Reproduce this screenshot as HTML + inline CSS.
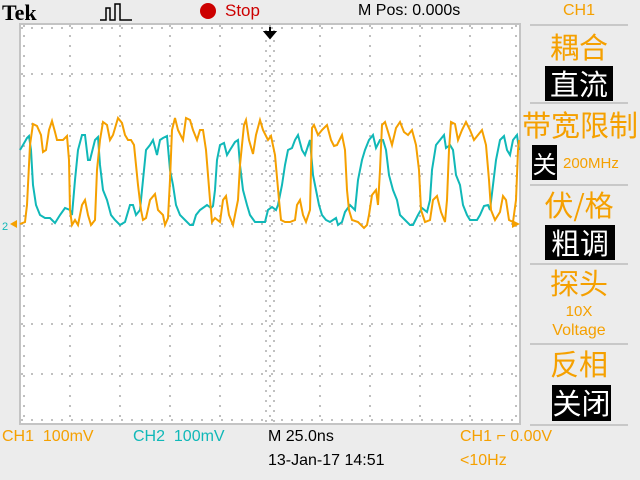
<!DOCTYPE html>
<html><head><meta charset="utf-8"><style>
body{margin:0;width:640px;height:480px;background:#ececec;overflow:hidden;position:relative;font-family:"Liberation Sans Narrow","Liberation Sans","Noto Sans CJK SC",sans-serif}
.t{position:absolute;white-space:nowrap;line-height:1}
.o{color:#f5a000}.c{color:#10b8b8}.k{color:#000}
.cj{font-family:"Noto Sans CJK SC","WenQuanYi Zen Hei",sans-serif;font-size:29px;color:#f5a000;text-align:center}
.box{position:absolute;background:#000;color:#fff;font-family:"Noto Sans CJK SC",sans-serif;font-size:29px;line-height:35px;text-align:center}
</style></head><body>
<svg width="640" height="480" style="position:absolute;left:0;top:0">
<rect x="20" y="24" width="500" height="400" fill="#fff" stroke="#c4c4c4" stroke-width="2"/>
<g stroke="#c0c0c0" stroke-width="2" stroke-dasharray="2 8">
<path d="M70 25V424M120 25V424M170 25V424M220 25V424M320 25V424M370 25V424M420 25V424M470 25V424"/>
<path d="M21 74H520M21 124H520M21 174H520M21 274H520M21 324H520M21 374H520"/>
<path d="M21 224H520M270 25V424"/>
<path d="M21 28H520M21 420H520M24 25V424M516 25V424"/>
</g>
<g stroke="#c0c0c0" stroke-width="2" stroke-dasharray="2 8" stroke-dashoffset="-1">
<path d="M266 29V424M274 29V424"/>
</g>
<path d="M270 27V37M265 32H275L270 38Z" stroke="#000" stroke-width="2" fill="#000"/>
<polyline fill="none" stroke="#10b8b8" stroke-width="2" points="20,150 23,145 27,138 29,136 31,150 33,185 36,205 40,215 45,218 50,218 55,223 60,215 65,208 70,210 72,215 75,180 78,150 82,135 85,135 88,160 90,160 95,140 98,137 100,165 103,190 107,200 111,215 115,220 120,225 125,222 130,205 133,205 136,215 140,210 143,180 146,150 150,145 153,140 157,155 160,140 163,138 167,136 170,170 173,185 176,205 180,215 185,220 190,225 193,225 196,215 200,210 207,205 211,208 213,206 215,190 217,160 220,145 224,143 227,155 230,150 235,142 238,140 240,165 243,190 247,205 250,215 255,222 260,222 265,222 268,210 272,207 276,210 278,205 282,185 285,165 288,150 292,148 295,140 298,135 302,150 305,155 310,140 313,175 316,190 319,205 322,215 326,220 330,222 336,218 338,225 342,222 345,212 350,205 355,210 358,180 362,160 365,150 369,140 373,135 376,148 380,140 383,140 386,150 389,175 393,190 397,200 400,215 405,220 410,225 413,225 418,215 422,208 427,212 430,200 432,170 436,145 440,140 444,135 446,148 450,145 453,150 456,175 460,185 463,205 467,215 470,220 477,220 480,215 484,206 488,205 490,210 493,185 496,160 500,140 504,136 507,150 510,155 513,140 517,135 519,150"/>
<polyline fill="none" stroke="#f5a000" stroke-width="2" points="20,224 25,222 27,205 30,145 33,124 37,126 41,135 43,152 46,150 49,130 52,121 55,132 57,140 60,140 63,140 67,136 69,160 70,210 72,225 75,220 78,225 82,205 85,200 88,215 91,225 95,220 97,170 100,140 103,122 107,125 110,140 113,135 118,118 122,123 125,135 128,140 131,140 134,145 138,185 141,210 143,220 146,218 150,200 155,194 158,210 163,215 165,225 168,218 170,180 172,130 175,118 178,130 183,140 186,118 190,120 193,130 197,140 200,130 203,130 206,150 210,200 212,222 215,218 220,222 223,200 226,196 229,215 233,225 238,200 240,165 244,125 246,120 249,140 253,154 256,135 260,120 263,130 268,140 271,136 275,155 279,200 281,220 285,222 290,222 295,220 297,205 300,200 303,215 306,222 310,210 311,170 312,128 314,125 318,135 322,130 327,125 331,140 334,146 337,145 342,135 345,150 347,190 349,210 352,220 358,222 364,228 367,225 369,215 372,195 376,190 378,205 380,170 382,125 385,122 389,135 392,145 396,128 400,122 404,132 408,135 412,130 416,145 419,170 421,210 425,222 430,220 433,200 437,196 441,212 445,222 447,200 449,150 451,122 455,124 458,140 462,130 466,122 470,130 474,140 478,135 482,130 486,145 489,180 491,210 495,220 500,212 503,196 506,200 509,220 513,222 516,200 518,150 519,140"/>
<text x="2" y="230" font-size="11" fill="#10b8b8" font-family="Liberation Sans">2</text>
<path d="M10 224L17 220V228Z" fill="#f5a000"/>
<path d="M520 224L512 220V228Z" fill="#f5a000"/>
<g stroke="#c8c8c8" stroke-width="2"><path d="M530 25H628M530 103H628M530 185H628M530 264H628M530 344H628M530 425H628"/></g>
<path d="M100 20H106V8H110V20H115V4H120V20H126V20H132" stroke="#000" stroke-width="1.5" fill="none"/>
<circle cx="208" cy="11" r="8" fill="#cc0000"/>
</svg>
<div class="t k" style="left:2px;top:2px;font-family:'Liberation Serif',serif;font-weight:bold;font-size:22px">Tek</div>
<div class="t" style="left:225px;top:2px;color:#cc0000;font-size:17px">Stop</div>
<div class="t k" style="left:358px;top:3px;font-size:16px">M Pos: 0.000s</div>
<div class="t o" style="left:563px;top:3px;font-size:16px">CH1</div>
<div class="t cj" style="left:530px;width:98px;top:32px">耦合</div>
<div class="box" style="left:545px;top:66px;width:68px;height:35px">直流</div>
<div class="t cj" style="left:520px;width:120px;top:110px">带宽限制</div>
<div class="box" style="left:532px;top:145px;width:25px;height:35px;font-size:24px">关</div>
<div class="t o" style="left:563px;top:156px;font-size:15px">200MHz</div>
<div class="t cj" style="left:530px;width:98px;top:190px">伏/格</div>
<div class="box" style="left:545px;top:225px;width:70px;height:35px">粗调</div>
<div class="t cj" style="left:530px;width:98px;top:268px">探头</div>
<div class="t o" style="left:530px;width:98px;text-align:center;top:304px;font-size:15px">10X</div>
<div class="t o" style="left:530px;width:98px;text-align:center;top:323px;font-size:16px">Voltage</div>
<div class="t cj" style="left:530px;width:98px;top:349px">反相</div>
<div class="box" style="left:552px;top:385px;width:59px;height:36px">关闭</div>
<div class="t o" style="left:2px;top:429px;font-size:16px">CH1&nbsp; 100mV</div>
<div class="t c" style="left:133px;top:429px;font-size:16px">CH2&nbsp; 100mV</div>
<div class="t k" style="left:268px;top:429px;font-size:16px">M 25.0ns</div>
<div class="t o" style="left:460px;top:429px;font-size:16px">CH1 ⌐ 0.00V</div>
<div class="t k" style="left:268px;top:453px;font-size:16px">13-Jan-17 14:51</div>
<div class="t o" style="left:460px;top:453px;font-size:16px">&lt;10Hz</div>
</body></html>
